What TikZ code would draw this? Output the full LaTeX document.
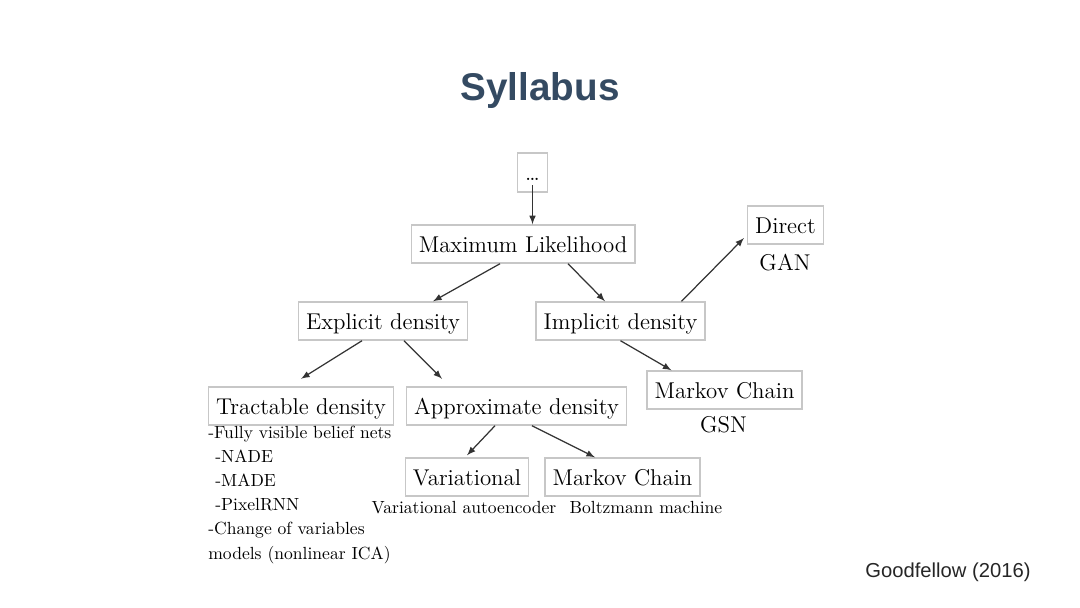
\documentclass[tikz,border=0pt]{standalone}
\usepackage{fontspec}
\newfontfamily\headfont{Liberation Sans}
\definecolor{titleblue}{RGB}{52,74,98}
\begin{document}
\begin{tikzpicture}[>=latex,
    box/.style={draw=black!22, line width=0.8pt, font=\fontsize{13}{15}\selectfont,
      inner xsep=4.3pt, text height=11.9pt, text depth=2.6pt, minimum height=0.76cm},
    note/.style={font=\fontsize{13}{15}\selectfont, anchor=base},
    small/.style={font=\fontsize{10}{12}\selectfont, anchor=base},
    link/.style={->, black!80, line width=0.7pt}]
    \useasboundingbox (0,0) rectangle (21.6,-12.14);
    \node[font=\headfont\bfseries\fontsize{22}{26}\selectfont, text=titleblue,
      anchor=base] (title) at (10.8,-2.0) {Syllabus};
    % tree
    \node[box, minimum width=0.58cm, minimum height=0.78cm] (dots) at (10.65,-3.45) {\dots};
    \node[box] (ml) at (10.46,-4.88) {Maximum Likelihood};
    \node[box] (direct) at (15.71,-4.50) {Direct};
    \node[note] (gan) at (15.70,-5.40) {GAN};
    \node[box] (expl) at (7.66,-6.42) {Explicit density};
    \node[box] (impl) at (12.41,-6.42) {Implicit density};
    \node[box] (mcgsn) at (14.49,-7.80) {Markov Chain};
    \node[note] (gsn) at (14.47,-8.64) {GSN};
    \node[box] (tract) at (6.02,-8.12) {Tractable density};
    \node[box] (approx) at (10.33,-8.12) {Approximate density};
    \node[box] (vari) at (9.34,-9.54) {Variational};
    \node[box] (mcbm) at (12.45,-9.54) {Markov Chain};
    \node[small] (vae) at (9.28,-10.26) {Variational autoencoder};
    \node[small] (boltz) at (12.92,-10.26) {Boltzmann machine};
    % tractable models
    \foreach \txt [count=\i from 0] in {-Fully visible belief nets,
      \hspace*{4pt}-NADE, \hspace*{4pt}-MADE, \hspace*{4pt}-PixelRNN,
      -Change of variables, models (nonlinear ICA)}
      \node[small, anchor=base west, inner sep=0pt] (list\i) at (4.16,-8.76-0.484*\i) {\txt};
    % arrows
    \draw[link] ([yshift=0.15cm]dots.south) -- (dots.south |- ml.north);
    \draw[link] ([xshift=-0.46cm]ml.south) -- ([xshift=1.0cm]expl.north);
    \draw[link] ([xshift=0.9cm]ml.south) -- ([xshift=-0.31cm]impl.north);
    \draw[link] ([xshift=1.22cm]impl.north) -- ([xshift=-0.06cm,yshift=-0.26cm]direct.west);
    \draw[link] (impl.south) -- ([xshift=-1.06cm]mcgsn.north);
    \draw[link] ([xshift=-0.42cm]expl.south) -- ([yshift=0.15cm]tract.north);
    \draw[link] ([xshift=0.42cm]expl.south) -- ([xshift=-1.49cm,yshift=0.15cm]approx.north);
    \draw[link] ([xshift=-0.43cm]approx.south) -- ([yshift=0.04cm]vari.north);
    \draw[link] ([xshift=0.31cm]approx.south) -- ([xshift=-0.55cm]mcbm.north);
    \node[font=\headfont\fontsize{11.5}{14}\selectfont, text=black!85,
      anchor=base] (credit) at (18.96,-11.54) {Goodfellow (2016)};
\end{tikzpicture}
\end{document}
